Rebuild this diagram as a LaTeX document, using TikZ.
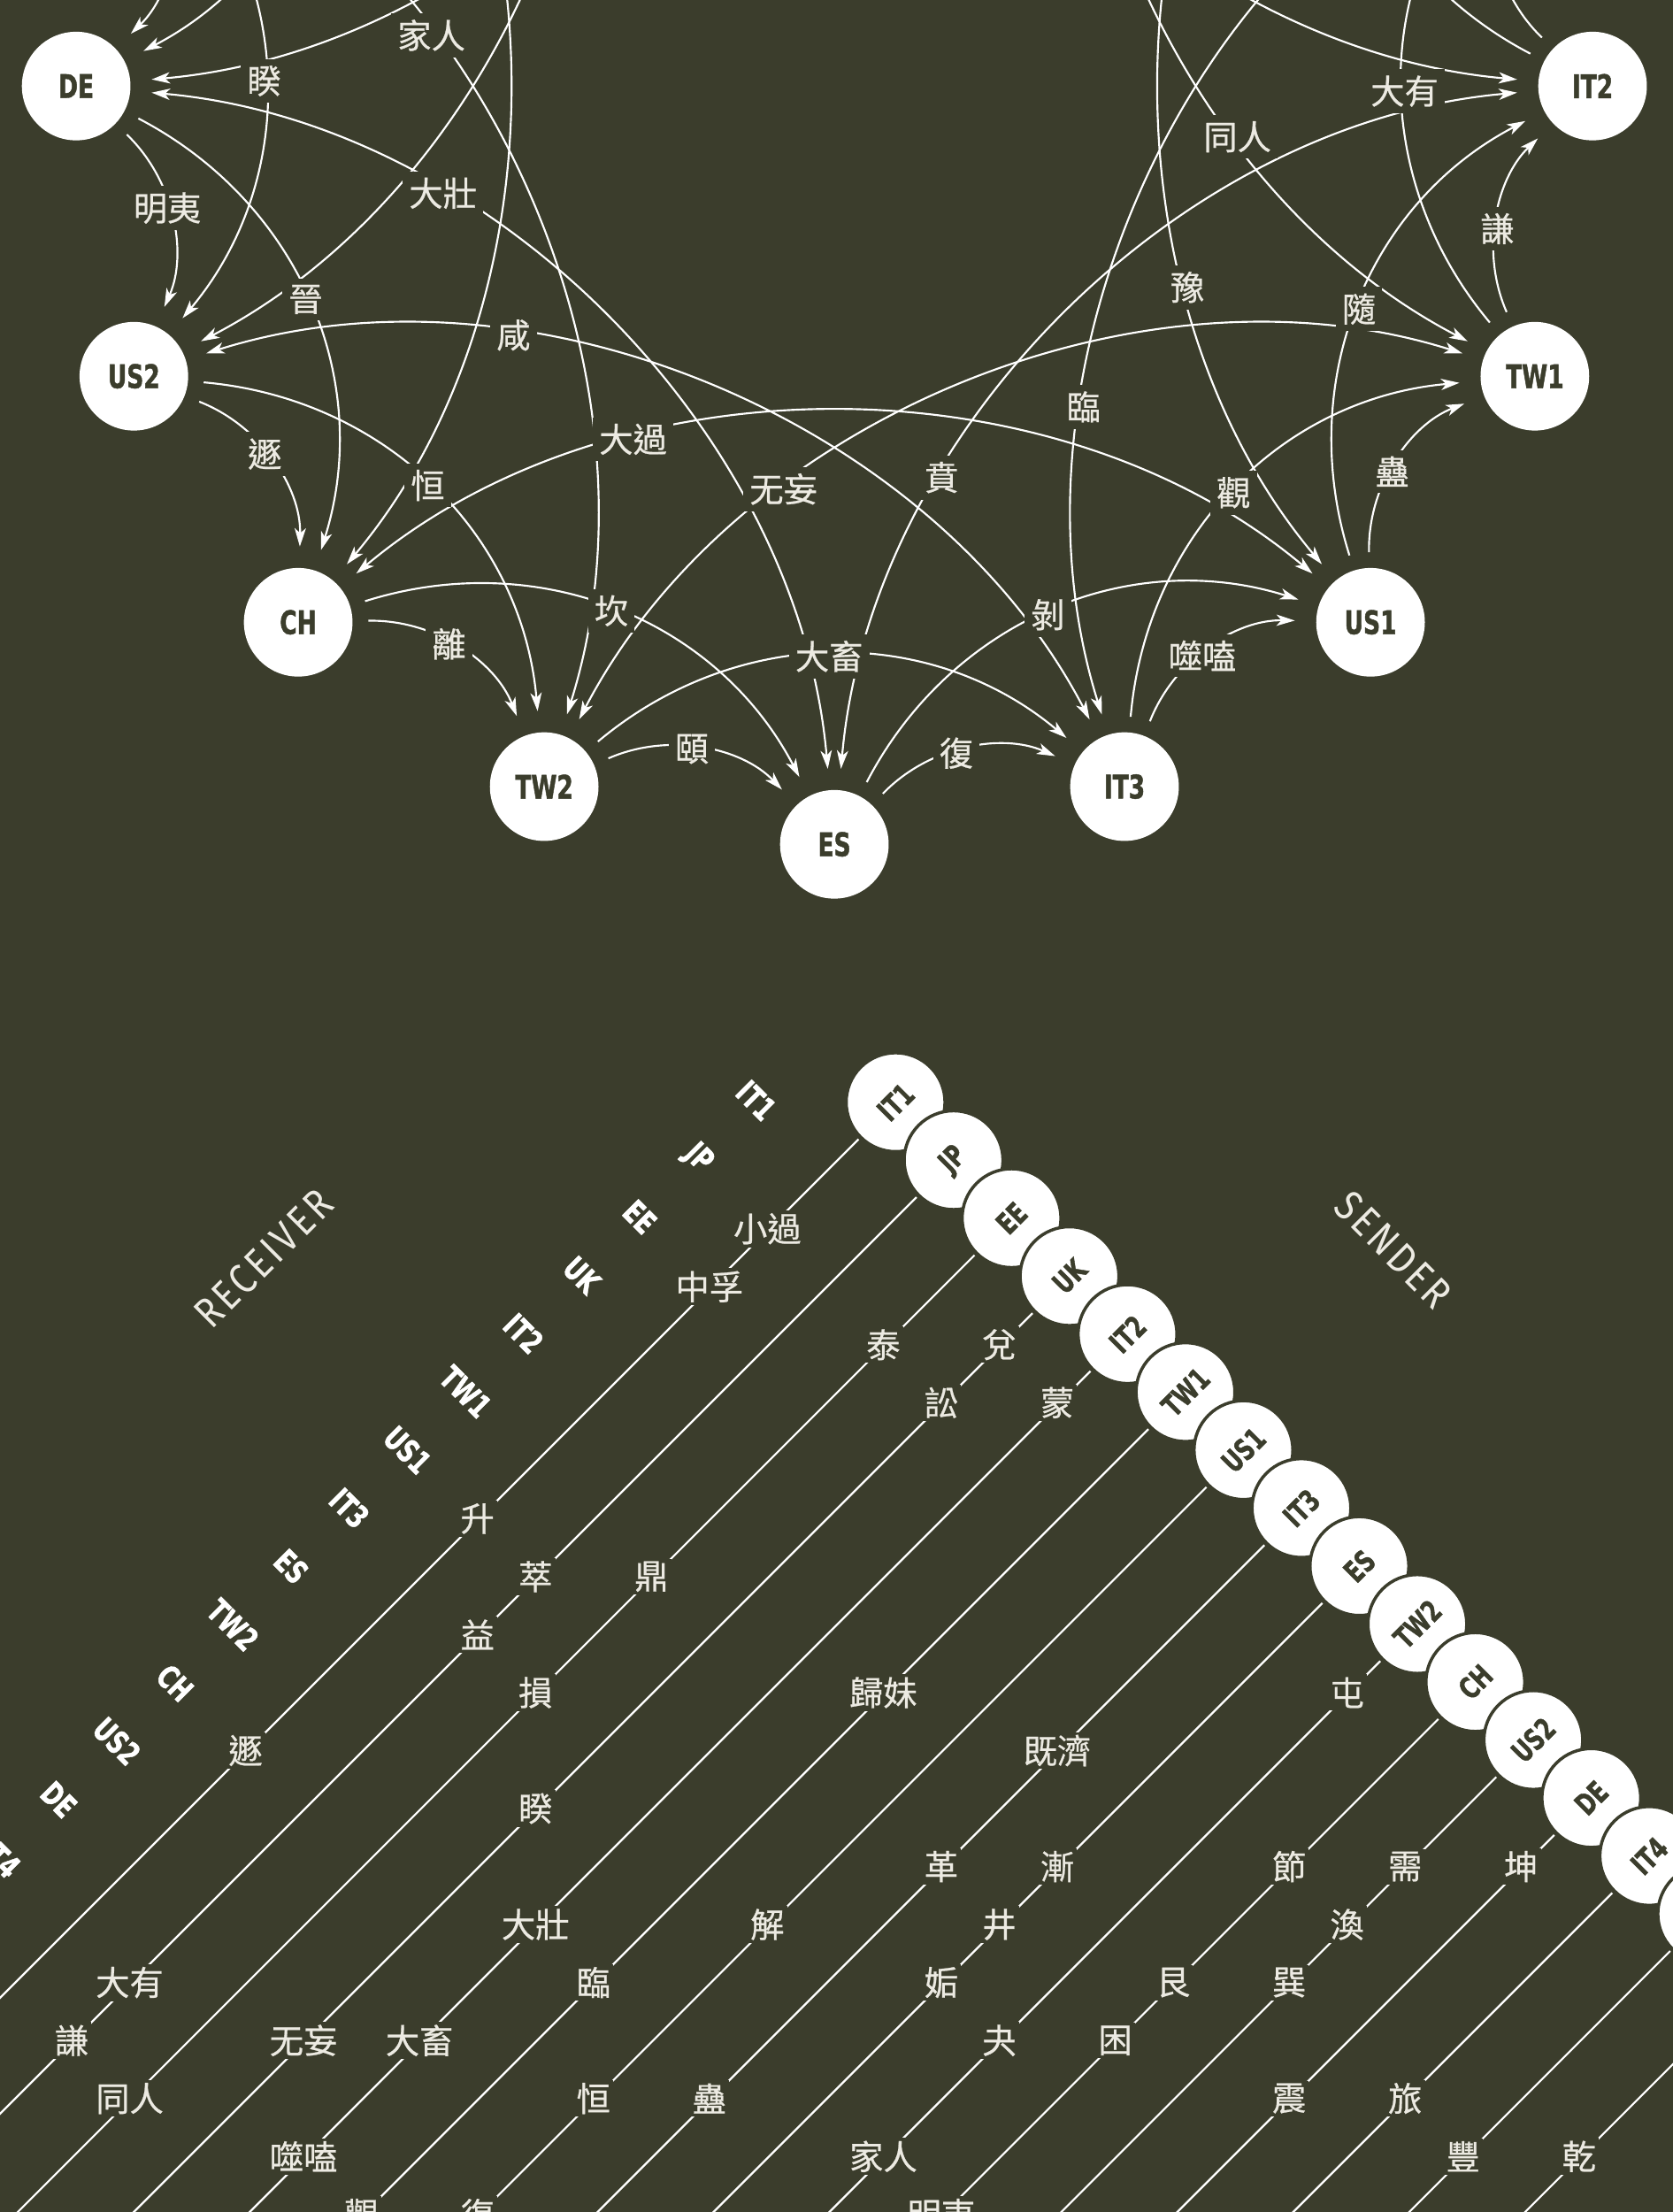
\documentclass[tikz,border=0pt]{standalone}
\usepackage{fontspec}
\newfontfamily\cjkfont{Noto Sans CJK TC}[FakeBold=0.6]
\newfontfamily\codefont{DejaVu Sans}[FakeStretch=0.72,FakeBold=1.2]
\newfontfamily\headfont{Fira Sans}[FakeStretch=0.85,LetterSpace=8]
\usetikzlibrary{calc,arrows.meta}
\definecolor{bgc}{RGB}{59,61,44}
\definecolor{ink}{RGB}{236,234,226}
\tikzset{
  myarr/.tip={Stealth[length=13pt,width=8pt,inset=3.5pt]},
  gnode/.style={circle,fill=white,inner sep=0pt,minimum size=77pt,text=bgc,
    font=\codefont\bfseries\fontsize{23}{23}\selectfont},
  gghost/.style={circle,inner sep=0pt,minimum size=77pt},
  gedge/.style={draw=white,line width=1.35pt,shorten <=11pt,shorten >=15pt,-{myarr}},
  gpair/.style={draw=white,line width=1.35pt,shorten <=15pt,shorten >=15pt,{myarr}-{myarr}},
  bendA/.style={bend left=35,looseness=1},
  bendB/.style={bend left=40,looseness=1.02},
  bendC/.style={bend right=40,looseness=0.93},
  hexlab/.style={fill=bgc,text=ink,inner sep=4.5pt,
    font=\cjkfont\fontsize{24}{24}\selectfont},
  mlab/.style={hexlab,inner sep=2pt},
  snode/.style={circle,fill=white,draw=bgc,line width=2.2pt,inner sep=0pt,
    minimum size=70pt,text=bgc,rotate=45,
    font=\codefont\bfseries\fontsize{21}{21}\selectfont},
  rlab/.style={text=white,rotate=-45,inner sep=0pt,
    font=\codefont\bfseries\fontsize{22.5}{22.5}\selectfont},
  mline/.style={draw=white,line width=1.4pt,shorten <=1pt},
  headlab/.style={text=ink,inner sep=0pt,font=\headfont\fontsize{30}{30}\selectfont},
}
\begin{document}
\begin{tikzpicture}[x=1pt,y=-1pt]
\fill[bgc] (0,0) rectangle (1186,1568);
\path[use as bounding box] (0,0) rectangle (1186,1568);
\begin{scope}
\clip (0,0) rectangle (1186,1568);

% ---------------- network (upper part) ----------------
\node[gnode] (gIT2) at (1129.0,61.0) {IT2};
\node[gnode] (gTW1) at (1088.1,266.7) {TW1};
\node[gnode] (gUS1) at (971.6,441.1) {US1};
\node[gnode] (gIT3) at (797.2,557.6) {IT3};
\node[gnode] (gES) at (591.5,598.5) {ES};
\node[gnode] (gTW2) at (385.8,557.6) {TW2};
\node[gnode] (gCH) at (211.4,441.1) {CH};
\node[gnode] (gUS2) at (94.9,266.7) {US2};
\node[gnode] (gDE) at (54.0,61.0) {DE};
\node[gghost] (gIT4) at (94.9,-144.7) {};
\node[gghost] (gN14) at (211.4,-319.1) {};
\node[gghost] (gN15) at (385.8,-435.6) {};
\node[gghost] (gIT1) at (591.5,-476.5) {};
\node[gghost] (gJP) at (797.2,-435.6) {};
\node[gghost] (gEE) at (971.6,-319.1) {};
\node[gghost] (gUK) at (1088.1,-144.7) {};

% neighbours
\draw[gedge] (gTW1) to[bendA] coordinate[pos=.45] (h15) (gIT2);
\draw[gedge] (gUS1) to[bendA] coordinate[pos=.45] (h18) (gTW1);
\draw[gedge] (gIT3) to[bendA] coordinate[pos=.45] (h21) (gUS1);
\draw[gedge] (gES) to[bendA] coordinate[pos=.45] (h24) (gIT3);
\draw[gedge] (gTW2) to[bendA] coordinate[pos=.45] (h27) (gES);
\draw[gedge] (gCH) to[bendA] coordinate[pos=.45] (h30) (gTW2);
\draw[gedge] (gUS2) to[bendA] coordinate[pos=.45] (h33) (gCH);
\draw[gedge] (gDE) to[bendA] coordinate[pos=.45] (h36) (gUS2);
\draw[gedge] (gIT4) to[bendA] (gDE);
\draw[gedge] (gIT2) to[bendA] (gUK);
% two steps
\draw[gedge] (gTW1) to[bendB] coordinate[pos=.49] (h14) (gUK);
\draw[gedge] (gUS1) to[bendB] coordinate[pos=.49] (h17) (gIT2);
\draw[gedge] (gIT3) to[bendB] coordinate[pos=.49] (h20) (gTW1);
\draw[gedge] (gES) to[bendB] coordinate[pos=.49] (h23) (gUS1);
\draw[gedge] (gTW2) to[bendB] coordinate[pos=.49] (h26) (gIT3);
\draw[gedge] (gCH) to[bendB] coordinate[pos=.49] (h29) (gES);
\draw[gedge] (gUS2) to[bendB] coordinate[pos=.49] (h32) (gTW2);
\draw[gedge] (gDE) to[bendB] coordinate[pos=.49] (h35) (gCH);
\draw[gedge] (gIT4) to[bendB] coordinate[pos=.49] (h38) (gUS2);
\draw[gedge] (gN14) to[bendB] (gDE);
\draw[gedge] (gIT2) to[bendB] (gEE);
% four steps, both ways
\draw[gpair] (gJP) to[bendC] coordinate[pos=.69] (h13) (gTW1);
\draw[gpair] (gEE) to[bendC] coordinate[pos=.69] (h16) (gUS1);
\draw[gpair] (gUK) to[bendC] coordinate[pos=.69] (h19) (gIT3);
\draw[gpair] (gIT2) to[bendC] coordinate[pos=.69] (h22) (gES);
\draw[gpair] (gTW1) to[bendC] coordinate[pos=.69] (h25) (gTW2);
\draw[gpair] (gUS1) to[bendC] coordinate[pos=.69] (h28) (gCH);
\draw[gpair] (gIT3) to[bendC] coordinate[pos=.69] (h31) (gUS2);
\draw[gpair] (gES) to[bendC] coordinate[pos=.69] (h34) (gDE);
\draw[gpair] (gTW2) to[bendC] coordinate[pos=.69] (h37) (gIT4);
\draw[gpair] (gCH) to[bendC] (gN14);
\draw[gpair] (gUS2) to[bendC] (gN15);
\draw[gpair] (gDE) to[bendC] (gIT1);
\draw[gpair] (gIT1) to[bendC] (gIT2);

% labels
\node[hexlab] (t13) at (h13) {同人};
\node[hexlab] (t14) at (h14) {大有};
\node[hexlab] (t15) at (h15) {謙};
\node[hexlab] (t16) at (h16) {豫};
\node[hexlab] (t17) at (h17) {隨};
\node[hexlab] (t18) at (h18) {蠱};
\node[hexlab] (t19) at (h19) {臨};
\node[hexlab] (t20) at (h20) {觀};
\node[hexlab] (t21) at (h21) {噬嗑};
\node[hexlab] (t22) at (h22) {賁};
\node[hexlab] (t23) at (h23) {剝};
\node[hexlab] (t24) at (h24) {復};
\node[hexlab] (t25) at (h25) {无妄};
\node[hexlab] (t26) at (h26) {大畜};
\node[hexlab] (t27) at (h27) {頤};
\node[hexlab] (t28) at (h28) {大過};
\node[hexlab] (t29) at (h29) {坎};
\node[hexlab] (t30) at (h30) {離};
\node[hexlab] (t31) at (h31) {咸};
\node[hexlab] (t32) at (h32) {恒};
\node[hexlab] (t33) at (h33) {遯};
\node[hexlab] (t34) at (h34) {大壯};
\node[hexlab] (t35) at (h35) {晉};
\node[hexlab] (t36) at (h36) {明夷};
\node[hexlab] (t37) at (h37) {家人};
\node[hexlab] (t38) at (h38) {睽};

% ---------------- matrix (lower part) ----------------
\node[snode] (sIT1) at (634.9,781.3) {IT1};
\node[snode] (sJP) at (676.0,822.4) {JP};
\node[snode] (sEE) at (717.1,863.5) {EE};
\node[snode] (sUK) at (758.2,904.6) {UK};
\node[snode] (sIT2) at (799.3,945.7) {IT2};
\node[snode] (sTW1) at (840.4,986.8) {TW1};
\node[snode] (sUS1) at (881.5,1027.9) {US1};
\node[snode] (sIT3) at (922.6,1069.0) {IT3};
\node[snode] (sES) at (963.7,1110.1) {ES};
\node[snode] (sTW2) at (1004.8,1151.2) {TW2};
\node[snode] (sCH) at (1045.9,1192.3) {CH};
\node[snode] (sUS2) at (1087.0,1233.4) {US2};
\node[snode] (sDE) at (1128.1,1274.5) {DE};
\node[snode] (sIT4) at (1169.2,1315.6) {IT4};
\node[snode] (sN14) at (1210.3,1356.7) {};
\node[snode] (sN15) at (1251.4,1397.8) {};

\foreach \s in {IT1,JP,EE,UK,IT2,TW1,US1,IT3,ES,TW2,CH,US2,DE,IT4,N14,N15}{
  \coordinate (e\s) at ($(s\s)+(-1400,1400)$);
  \draw[mline] (s\s) -- (e\s);
}

\node[mlab] (m01) at (544,871) {小過};
\node[mlab] (m02) at (502.9,912.1) {中孚};
\node[mlab] (m03) at (626.2,953.2) {泰};
\node[mlab] (m04) at (708.4,953.2) {兌};
\node[mlab] (m05) at (667.3,994.3) {訟};
\node[mlab] (m06) at (749.5,994.3) {蒙};
\node[mlab] (m07) at (338.5,1076.5) {升};
\node[mlab] (m08) at (379.6,1117.6) {萃};
\node[mlab] (m09) at (461.8,1117.6) {鼎};
\node[mlab] (m10) at (338.5,1158.7) {益};
\node[mlab] (m11) at (379.6,1199.8) {損};
\node[mlab] (m12) at (626.2,1199.8) {歸妹};
\node[mlab] (m13) at (955,1199.8) {屯};
\node[mlab] (m14) at (174.1,1240.9) {遯};
\node[mlab] (m15) at (749.5,1240.9) {既濟};
\node[mlab] (m16) at (379.6,1282) {睽};
\node[mlab] (m17) at (667.3,1323.1) {革};
\node[mlab] (m18) at (749.5,1323.1) {漸};
\node[mlab] (m19) at (913.9,1323.1) {節};
\node[mlab] (m20) at (996.1,1323.1) {需};
\node[mlab] (m21) at (1078.3,1323.1) {坤};
\node[mlab] (m22) at (379.6,1364.2) {大壯};
\node[mlab] (m23) at (544,1364.2) {解};
\node[mlab] (m24) at (708.4,1364.2) {井};
\node[mlab] (m25) at (955,1364.2) {渙};
\node[mlab] (m26) at (91.9,1405.3) {大有};
\node[mlab] (m27) at (420.7,1405.3) {臨};
\node[mlab] (m28) at (667.3,1405.3) {姤};
\node[mlab] (m29) at (831.7,1405.3) {艮};
\node[mlab] (m30) at (913.9,1405.3) {巽};
\node[mlab] (m31) at (50.8,1446.4) {謙};
\node[mlab] (m32) at (215.2,1446.4) {无妄};
\node[mlab] (m33) at (297.4,1446.4) {大畜};
\node[mlab] (m34) at (708.4,1446.4) {夬};
\node[mlab] (m35) at (790.6,1446.4) {困};
\node[mlab] (m36) at (91.9,1487.5) {同人};
\node[mlab] (m37) at (420.7,1487.5) {恒};
\node[mlab] (m38) at (502.9,1487.5) {蠱};
\node[mlab] (m39) at (913.9,1487.5) {震};
\node[mlab] (m40) at (996.1,1487.5) {旅};
\node[mlab] (m41) at (215.2,1528.6) {噬嗑};
\node[mlab] (m42) at (626.2,1528.6) {家人};
\node[mlab] (m43) at (1037.2,1528.6) {豐};
\node[mlab] (m44) at (1119.4,1528.6) {乾};
\node[mlab] (m45) at (256.3,1569.7) {觀};
\node[mlab] (m46) at (338.5,1569.7) {復};
\node[mlab] (m47) at (667.3,1569.7) {明夷};

\node[rlab] (rIT1) at (536,780) {IT1};
\node[rlab] (rJP) at (494.8,821.3) {JP};
\node[rlab] (rEE) at (453.6,862.6) {EE};
\node[rlab] (rUK) at (412.4,903.9) {UK};
\node[rlab] (rIT2) at (371.2,945.2) {IT2};
\node[rlab] (rTW1) at (330,986.5) {TW1};
\node[rlab] (rUS1) at (288.8,1027.8) {US1};
\node[rlab] (rIT3) at (247.6,1069.1) {IT3};
\node[rlab] (rES) at (206.4,1110.4) {ES};
\node[rlab] (rTW2) at (165.2,1151.7) {TW2};
\node[rlab] (rCH) at (124,1193) {CH};
\node[rlab] (rUS2) at (82.8,1234.3) {US2};
\node[rlab] (rDE) at (41.6,1275.6) {DE};
\node[rlab] (rIT4) at (0.4,1316.9) {IT4};

\node[headlab,rotate=45] (hRecv) at (187,892) {RECEIVER};
\node[headlab,rotate=-45] (hSend) at (988,886) {SENDER};
\end{scope}
\end{tikzpicture}
\end{document}
